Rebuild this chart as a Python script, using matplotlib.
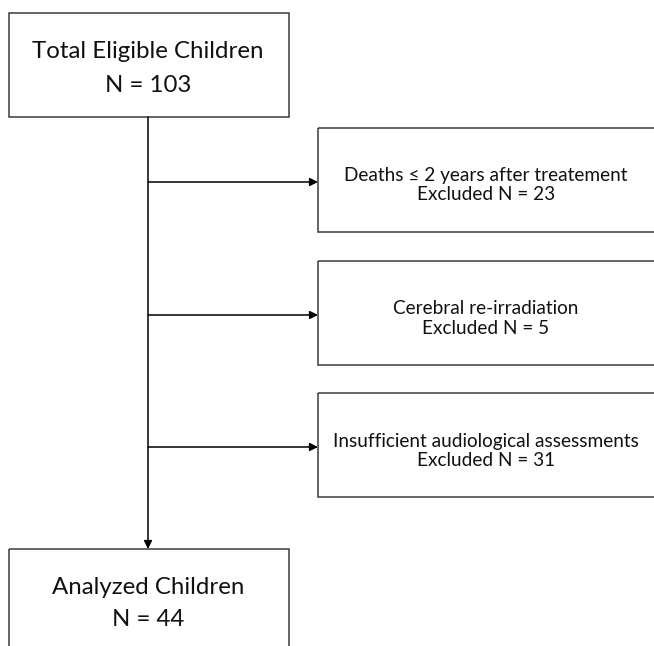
import matplotlib
matplotlib.use("Agg")
import matplotlib.pyplot as plt
from matplotlib.patches import Rectangle

plt.rcParams['font.family'] = ['Lato', 'DejaVu Sans']

# Flowchart content
top_label = "Total Eligible Children"
top_n = 103
excl_labels = ["Deaths \u2264 2 years after treatement",
               "Cerebral re-irradiation",
               "Insufficient audiological assessments"]
excl_n = [23, 5, 31]
final_label = "Analyzed Children"
final_n = 44

W, H = 654, 646
fig = plt.figure(figsize=(W / 100, H / 100), dpi=100)
ax = fig.add_axes([0, 0, 1, 1])
ax.set_xlim(0, W)
ax.set_ylim(H, 0)
ax.axis("off")

edge = "#3a3a3a"
lw = 1.1
txt = "#111111"

# main boxes (pixel layout)
main_x0, main_x1 = 9, 289
spine_x = 148
top_y0, top_y1 = 13, 117
bot_y0, bot_y1 = 549, 680

# exclusion boxes
ex_x0, ex_x1 = 318, 658
ex_boxes = [(128, 232), (261, 365), (393, 497)]

def box(x0, y0, x1, y1):
    ax.add_patch(Rectangle((x0, y0), x1 - x0, y1 - y0, fill=False,
                           edgecolor=edge, linewidth=lw, clip_on=False))

box(main_x0, top_y0, main_x1, top_y1)
ax.text(spine_x, 51, top_label, ha="center", va="center", fontsize=17.3, color=txt)
ax.text(spine_x, 85, f"N = {top_n}", ha="center", va="center", fontsize=17.3, color=txt)

box(main_x0, bot_y0, main_x1, bot_y1)
ax.text(spine_x, 587, final_label, ha="center", va="center", fontsize=17.3, color=txt)
ax.text(spine_x, 620, f"N = {final_n}", ha="center", va="center", fontsize=17.3, color=txt)

# spine with arrow to final box
ax.annotate("", xy=(spine_x, bot_y0), xytext=(spine_x, top_y1),
            arrowprops=dict(arrowstyle="-|>", color="black", lw=lw,
                            mutation_scale=12, shrinkA=0, shrinkB=0))

for (y0, y1), lab, n in zip(ex_boxes, excl_labels, excl_n):
    box(ex_x0, y0, ex_x1, y1)
    yc = (y0 + y1) / 2
    ax.annotate("", xy=(ex_x0, yc + 2), xytext=(spine_x, yc + 2),
                arrowprops=dict(arrowstyle="-|>", color="black", lw=lw,
                                mutation_scale=12, shrinkA=0, shrinkB=0))
    tx = (ex_x0 + ex_x1) / 2 - 2
    ax.text(tx, yc - 4, lab, ha="center", va="center", fontsize=13.7, color=txt)
    ax.text(tx, yc + 15, f"Excluded N = {n}", ha="center", va="center", fontsize=13.7, color=txt)

fig.savefig("out.png", dpi=100)
